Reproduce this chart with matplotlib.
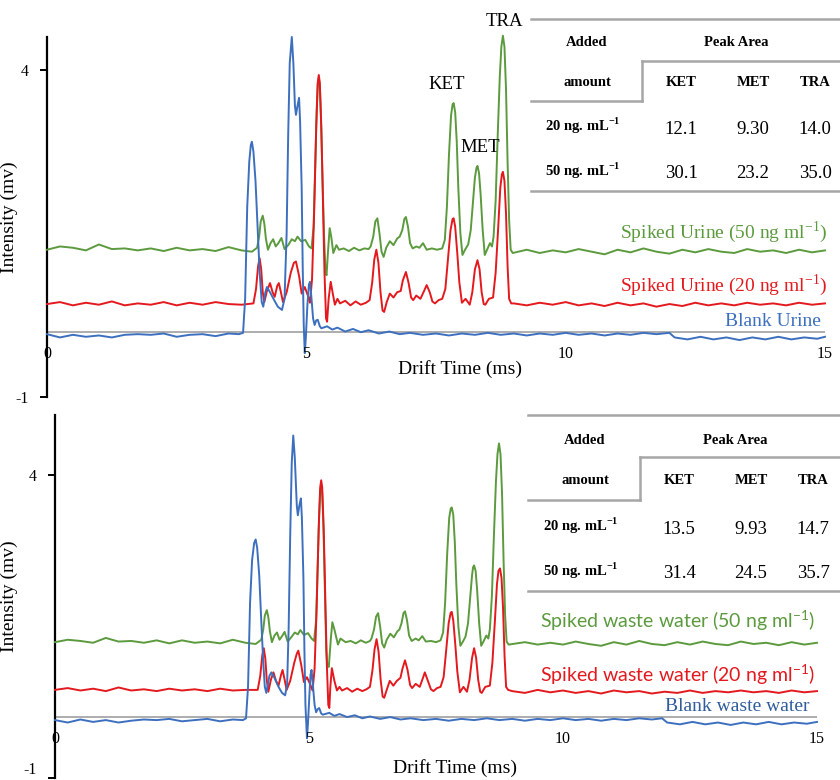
import numpy as np
import matplotlib.pyplot as plt
from matplotlib.lines import Line2D

plt.rcParams['font.family'] = ['Liberation Serif', 'DejaVu Serif']
plt.rcParams['axes.unicode_minus'] = False

BLUE = '#3d6fbf'
RED = '#e3191e'
GREEN = '#5c9a3e'

# ---- Urine panel traces (drift time ms, intensity mV) ----
u_blank_t = [0, 0.25, 0.5, 0.75, 1.0, 1.25, 1.5, 1.75, 2.0, 2.25, 2.5, 2.75, 3.0, 3.25, 3.5, 3.7,
             3.78, 3.82, 3.86, 3.90, 3.93, 3.95, 3.98, 4.02, 4.06, 4.10, 4.14, 4.17, 4.21, 4.24,
             4.30, 4.38, 4.45, 4.53, 4.58, 4.62, 4.65, 4.68, 4.72, 4.75, 4.78, 4.80, 4.83, 4.86,
             4.88, 4.91, 4.93, 4.95, 4.97, 4.99, 5.02, 5.05, 5.07, 5.10, 5.13, 5.16, 5.19, 5.22,
             5.26, 5.29, 5.4, 5.5, 5.6, 5.75, 5.9, 6.05, 6.2, 6.4, 6.6, 6.8, 7.0, 7.25, 7.5, 7.75,
             8.0, 8.25, 8.5, 8.75, 9.0, 9.25, 9.5, 9.75, 10.0, 10.25, 10.5, 10.75, 11.0, 11.25,
             11.5, 11.75, 12.0, 12.1, 12.35, 12.6, 12.85, 13.1, 13.35, 13.6, 13.85, 14.1, 14.35,
             14.6, 14.85, 15.0]
u_blank_y = [-0.04, -0.09, -0.05, -0.08, -0.06, -0.09, -0.05, -0.04, -0.05, -0.03, -0.08, -0.05,
             -0.04, -0.07, -0.03, -0.04,
             -0.02, 0.5, 1.9, 2.6, 2.85, 2.9, 2.75, 2.3, 1.6, 0.9, 0.45, 0.38, 0.6, 0.68,
             0.6, 0.48, 0.38, 0.33, 0.5, 1.5, 3.0, 4.1, 4.5, 4.1, 3.45, 3.31, 3.45, 3.57,
             3.2, 2.2, 1.0, 0.1, -0.33, -0.1, 0.4, 0.72, 0.76, 0.5, 0.2, 0.1, 0.17, 0.18,
             0.08, 0.05, 0.08, 0.03, 0.06, 0.0, 0.04, -0.01, 0.02, -0.03, 0.0, -0.04, -0.02, -0.05,
             -0.03, -0.06, -0.03, -0.05, -0.02, -0.05, -0.03, -0.06, -0.03, -0.05, -0.02, -0.05,
             -0.03, -0.06, -0.03, -0.05, -0.02, -0.04, -0.02, -0.09, -0.12, -0.08, -0.12, -0.09,
             -0.13, -0.09, -0.12, -0.08, -0.12, -0.09, -0.11, -0.08]

u_20_t = [0, 0.25, 0.5, 0.75, 1.0, 1.25, 1.5, 1.75, 2.0, 2.25, 2.5, 2.75, 3.0, 3.25, 3.5, 3.75,
          3.98, 4.03, 4.07, 4.10, 4.13, 4.16, 4.19, 4.24, 4.30, 4.35, 4.39, 4.44, 4.47, 4.51,
          4.55, 4.62, 4.70, 4.76, 4.80, 4.86, 4.91, 4.97, 5.03, 5.07, 5.11, 5.15, 5.19, 5.22,
          5.24, 5.26, 5.29, 5.32, 5.35, 5.38, 5.40, 5.43, 5.47, 5.51, 5.55, 5.6, 5.65, 5.75,
          5.85, 5.95, 6.05, 6.15, 6.22, 6.27, 6.31, 6.35, 6.39, 6.43, 6.47, 6.50, 6.55, 6.61,
          6.68, 6.75, 6.82, 6.86, 6.92, 6.97, 7.02, 7.06, 7.12, 7.2, 7.27, 7.32, 7.38, 7.43,
          7.48, 7.55, 7.62, 7.68, 7.73, 7.78, 7.82, 7.84, 7.87, 7.91, 7.95, 8.0, 8.07, 8.15,
          8.20, 8.25, 8.30, 8.34, 8.38, 8.42, 8.45, 8.52, 8.60, 8.65, 8.70, 8.74, 8.77, 8.79,
          8.82, 8.85, 8.88, 8.91, 8.95, 9.0, 9.25, 9.5, 9.75, 10.0, 10.25, 10.5, 10.75, 11.0,
          11.25, 11.5, 11.75, 12.0, 12.25, 12.5, 12.75, 13.0, 13.25, 13.5, 13.75, 14.0, 14.25,
          14.5, 14.75, 15.0]
u_20_y = [0.42, 0.45, 0.40, 0.44, 0.41, 0.46, 0.40, 0.43, 0.41, 0.45, 0.40, 0.44, 0.41, 0.45, 0.42,
          0.41, 0.43, 0.65, 1.0, 1.12, 0.95, 0.6, 0.45, 0.62, 0.74, 0.6, 0.53, 0.7, 0.74, 0.6,
          0.45, 0.6, 0.9, 1.05, 1.07, 0.85, 0.58, 0.68, 0.55, 0.44, 0.8, 1.8, 3.1, 3.8,
          3.92, 3.8, 3.1, 2.0, 0.9, 0.2, 0.15, 0.5, 0.76, 0.58, 0.41, 0.5, 0.43, 0.47,
          0.40, 0.46, 0.41, 0.44, 0.48, 0.75, 1.1, 1.25, 1.05, 0.6, 0.32, 0.30, 0.45, 0.58,
          0.52, 0.6, 0.62, 0.78, 0.91, 0.75, 0.52, 0.48, 0.55, 0.5, 0.62, 0.71, 0.6, 0.46,
          0.43, 0.48, 0.5, 0.65, 1.1, 1.55, 1.72, 1.73, 1.6, 1.2, 0.75, 0.44, 0.5, 0.41,
          0.6, 0.95, 1.09, 0.95, 0.6, 0.42, 0.41, 0.5, 0.52, 0.9, 1.6, 2.2, 2.4, 2.44,
          2.3, 1.8, 1.0, 0.5, 0.43, 0.43, 0.40, 0.44, 0.41, 0.45, 0.40, 0.43, 0.39, 0.44,
          0.40, 0.43, 0.38, 0.42, 0.39, 0.44, 0.40, 0.43, 0.40, 0.44, 0.41, 0.43, 0.40,
          0.44, 0.41, 0.43]

u_50_t = [0, 0.25, 0.5, 0.75, 1.0, 1.25, 1.5, 1.75, 2.0, 2.25, 2.5, 2.75, 3.0, 3.25, 3.5, 3.75,
          3.95, 4.05, 4.09, 4.12, 4.16, 4.19, 4.22, 4.26, 4.31, 4.36, 4.41, 4.46, 4.52, 4.58,
          4.65, 4.72, 4.78, 4.83, 4.9, 4.98, 5.05, 5.10, 5.14, 5.17, 5.20, 5.22, 5.24, 5.26,
          5.28, 5.31, 5.34, 5.37, 5.39, 5.42, 5.45, 5.48, 5.52, 5.58, 5.63, 5.72, 5.82, 5.92,
          6.02, 6.12, 6.2, 6.24, 6.29, 6.33, 6.37, 6.41, 6.45, 6.49, 6.54, 6.61, 6.68, 6.75,
          6.80, 6.85, 6.89, 6.92, 6.96, 7.0, 7.05, 7.12, 7.18, 7.25, 7.32, 7.42, 7.52, 7.62,
          7.67, 7.71, 7.75, 7.79, 7.82, 7.84, 7.87, 7.90, 7.93, 7.97, 8.01, 8.06, 8.12, 8.17,
          8.21, 8.25, 8.28, 8.30, 8.33, 8.36, 8.40, 8.44, 8.49, 8.54, 8.58, 8.61, 8.65, 8.69,
          8.73, 8.76, 8.79, 8.82, 8.85, 8.88, 8.91, 8.94, 8.98, 9.25, 9.5, 9.75, 10.0, 10.25,
          10.5, 10.75, 11.0, 11.25, 11.5, 11.75, 12.0, 12.25, 12.5, 12.75, 13.0, 13.25, 13.5,
          13.75, 14.0, 14.25, 14.5, 14.75, 15.0]
u_50_y = [1.25, 1.30, 1.28, 1.24, 1.33, 1.26, 1.27, 1.24, 1.27, 1.23, 1.28, 1.24, 1.26, 1.23, 1.29,
          1.24, 1.22, 1.28, 1.45, 1.68, 1.77, 1.65, 1.42, 1.25, 1.35, 1.41, 1.3, 1.35, 1.43, 1.26,
          1.32, 1.41, 1.38, 1.45, 1.38, 1.4, 1.3, 1.27, 1.6, 2.5, 3.4, 3.78, 3.87, 3.75,
          3.3, 2.4, 1.5, 0.9, 0.86, 1.25, 1.58, 1.45, 1.2, 1.32, 1.25, 1.27, 1.23, 1.28,
          1.24, 1.27, 1.26, 1.3, 1.45, 1.68, 1.73, 1.5, 1.22, 1.14, 1.28, 1.38, 1.32, 1.42,
          1.45, 1.55, 1.72, 1.75, 1.6, 1.35, 1.27, 1.3, 1.28, 1.35, 1.25, 1.27, 1.25, 1.27,
          1.4, 1.9, 2.7, 3.3, 3.47, 3.49, 3.35, 2.9, 2.2, 1.5, 1.17, 1.25, 1.33, 1.55,
          1.95, 2.35, 2.5, 2.53, 2.42, 2.1, 1.55, 1.17, 1.26, 1.35, 1.3, 1.45, 2.0, 3.0,
          3.9, 4.35, 4.52, 4.35, 3.7, 2.6, 1.7, 1.25, 1.2, 1.25, 1.20, 1.24, 1.21, 1.26,
          1.22, 1.18, 1.25, 1.21, 1.27, 1.22, 1.19, 1.25, 1.21, 1.26, 1.22, 1.20, 1.26,
          1.22, 1.24, 1.20, 1.25, 1.21, 1.24]

# ---- Waste water panel traces ----
w_blank_t = [0, 0.25, 0.5, 0.75, 1.0, 1.25, 1.5, 1.75, 2.0, 2.25, 2.5, 2.75, 3.0, 3.25, 3.5, 3.7,
             3.76, 3.80, 3.84, 3.88, 3.92, 3.95, 3.98, 4.02, 4.06, 4.10, 4.13, 4.16, 4.22, 4.26,
             4.32, 4.40, 4.47, 4.53, 4.57, 4.60, 4.63, 4.66, 4.69, 4.72, 4.76, 4.78, 4.81, 4.84,
             4.86, 4.89, 4.91, 4.93, 4.96, 4.98, 5.01, 5.03, 5.05, 5.08, 5.11, 5.14, 5.17, 5.20,
             5.24, 5.27, 5.4, 5.5, 5.6, 5.75, 5.9, 6.05, 6.2, 6.4, 6.6, 6.8, 7.0, 7.25, 7.5, 7.75,
             8.0, 8.25, 8.5, 8.75, 9.0, 9.25, 9.5, 9.75, 10.0, 10.25, 10.5, 10.75, 11.0, 11.25,
             11.5, 11.75, 11.95, 12.05, 12.3, 12.55, 12.8, 13.05, 13.3, 13.55, 13.8, 14.05, 14.3,
             14.55, 14.8, 15.0]
w_blank_y = [-0.05, -0.09, -0.04, -0.08, -0.05, -0.09, -0.06, -0.04, -0.05, -0.03, -0.07, -0.05,
             -0.03, -0.07, -0.04, -0.05,
             -0.02, 0.5, 1.9, 2.6, 2.88, 2.94, 2.8, 2.35, 1.6, 0.9, 0.5, 0.40, 0.68, 0.74,
             0.65, 0.5, 0.4, 0.36, 0.55, 1.5, 3.0, 4.2, 4.66, 4.3, 3.5, 3.34, 3.5, 3.62,
             3.3, 2.3, 1.1, 0.2, -0.35, -0.1, 0.4, 0.7, 0.78, 0.5, 0.2, 0.08, 0.13, 0.15,
             0.06, 0.04, 0.07, 0.02, 0.05, 0.0, 0.03, -0.02, 0.01, -0.03, 0.0, -0.04, -0.02, -0.05,
             -0.03, -0.06, -0.03, -0.05, -0.02, -0.05, -0.03, -0.06, -0.03, -0.05, -0.02, -0.05,
             -0.03, -0.06, -0.03, -0.05, -0.02, -0.04, -0.02, -0.09, -0.12, -0.08, -0.12, -0.09,
             -0.13, -0.09, -0.12, -0.08, -0.12, -0.09, -0.11, -0.08]

w_20_t = [0, 0.25, 0.5, 0.75, 1.0, 1.25, 1.5, 1.75, 2.0, 2.25, 2.5, 2.75, 3.0, 3.25, 3.5, 3.75,
          3.99, 4.04, 4.08, 4.11, 4.14, 4.17, 4.20, 4.25, 4.30, 4.35, 4.40, 4.45, 4.48, 4.52,
          4.56, 4.63, 4.71, 4.76, 4.79, 4.85, 4.90, 4.96, 5.02, 5.07, 5.11, 5.15, 5.19, 5.22,
          5.24, 5.26, 5.29, 5.32, 5.35, 5.38, 5.40, 5.42, 5.45, 5.50, 5.55, 5.6, 5.65, 5.75,
          5.85, 5.95, 6.05, 6.13, 6.20, 6.25, 6.29, 6.33, 6.37, 6.41, 6.45, 6.48, 6.53, 6.59,
          6.66, 6.73, 6.80, 6.84, 6.89, 6.94, 6.99, 7.03, 7.10, 7.18, 7.24, 7.28, 7.34, 7.40,
          7.45, 7.52, 7.59, 7.65, 7.70, 7.75, 7.79, 7.81, 7.84, 7.88, 7.92, 7.97, 8.04, 8.11,
          8.16, 8.21, 8.25, 8.29, 8.33, 8.37, 8.40, 8.47, 8.56, 8.61, 8.66, 8.70, 8.73, 8.76,
          8.79, 8.82, 8.85, 8.88, 8.92, 9.0, 9.25, 9.5, 9.75, 10.0, 10.25, 10.5, 10.75, 11.0,
          11.25, 11.5, 11.75, 12.0, 12.25, 12.5, 12.75, 13.0, 13.25, 13.5, 13.75, 14.0, 14.25,
          14.5, 14.75, 15.0]
w_20_y = [0.45, 0.48, 0.44, 0.47, 0.43, 0.49, 0.44, 0.46, 0.43, 0.47, 0.44, 0.46, 0.43, 0.47, 0.44,
          0.45, 0.45, 0.68, 1.02, 1.14, 0.97, 0.6, 0.42, 0.62, 0.74, 0.6, 0.52, 0.7, 0.78, 0.62,
          0.45, 0.6, 0.9, 1.05, 1.10, 0.85, 0.58, 0.66, 0.55, 0.44, 0.8, 1.8, 3.1, 3.8,
          3.92, 3.8, 3.1, 2.0, 0.9, 0.2, 0.15, 0.5, 0.81, 0.6, 0.44, 0.5, 0.44, 0.48,
          0.42, 0.47, 0.43, 0.46, 0.5, 0.78, 1.12, 1.29, 1.08, 0.62, 0.34, 0.32, 0.45, 0.6,
          0.52, 0.6, 0.65, 0.8, 0.94, 0.78, 0.53, 0.48, 0.55, 0.5, 0.64, 0.74, 0.6, 0.46,
          0.43, 0.48, 0.5, 0.66, 1.1, 1.56, 1.73, 1.74, 1.6, 1.2, 0.75, 0.41, 0.5, 0.42,
          0.62, 0.98, 1.14, 0.98, 0.62, 0.42, 0.40, 0.5, 0.52, 0.9, 1.6, 2.2, 2.42, 2.46,
          2.3, 1.8, 1.0, 0.5, 0.45, 0.43, 0.40, 0.45, 0.41, 0.44, 0.40, 0.43, 0.39, 0.44,
          0.41, 0.43, 0.39, 0.42, 0.40, 0.44, 0.40, 0.43, 0.41, 0.44, 0.41, 0.43, 0.40,
          0.44, 0.41, 0.43]

w_50_t = [0, 0.25, 0.5, 0.75, 1.0, 1.25, 1.5, 1.75, 2.0, 2.25, 2.5, 2.75, 3.0, 3.25, 3.5, 3.75,
          3.95, 4.06, 4.10, 4.13, 4.17, 4.20, 4.23, 4.27, 4.32, 4.37, 4.42, 4.47, 4.52, 4.58,
          4.65, 4.72, 4.78, 4.83, 4.9, 4.98, 5.05, 5.10, 5.14, 5.17, 5.20, 5.22, 5.24, 5.26,
          5.28, 5.30, 5.32, 5.34, 5.36, 5.39, 5.43, 5.46, 5.50, 5.57, 5.62, 5.72, 5.82, 5.92,
          6.02, 6.12, 6.2, 6.23, 6.28, 6.32, 6.36, 6.40, 6.44, 6.48, 6.53, 6.60, 6.67, 6.74,
          6.78, 6.82, 6.86, 6.89, 6.93, 6.97, 7.02, 7.10, 7.16, 7.23, 7.30, 7.40, 7.5, 7.59,
          7.64, 7.68, 7.72, 7.76, 7.79, 7.81, 7.84, 7.87, 7.90, 7.94, 7.98, 8.03, 8.08, 8.13,
          8.17, 8.21, 8.23, 8.25, 8.28, 8.31, 8.35, 8.39, 8.44, 8.49, 8.53, 8.56, 8.60, 8.64,
          8.68, 8.71, 8.74, 8.77, 8.80, 8.83, 8.86, 8.89, 8.93, 9.25, 9.5, 9.75, 10.0, 10.25,
          10.5, 10.75, 11.0, 11.25, 11.5, 11.75, 12.0, 12.25, 12.5, 12.75, 13.0, 13.25, 13.5,
          13.75, 14.0, 14.25, 14.5, 14.75, 15.0]
w_50_y = [1.24, 1.28, 1.26, 1.23, 1.31, 1.25, 1.26, 1.23, 1.27, 1.22, 1.27, 1.23, 1.25, 1.22, 1.28,
          1.23, 1.21, 1.28, 1.45, 1.68, 1.77, 1.65, 1.42, 1.24, 1.35, 1.40, 1.28, 1.34, 1.41, 1.25,
          1.32, 1.40, 1.37, 1.44, 1.36, 1.39, 1.3, 1.26, 1.6, 2.5, 3.35, 3.72, 3.83, 3.7,
          3.25, 2.6, 1.8, 1.1, 0.85, 0.83, 1.3, 1.57, 1.45, 1.2, 1.3, 1.24, 1.26, 1.22,
          1.27, 1.23, 1.26, 1.3, 1.45, 1.66, 1.72, 1.5, 1.22, 1.15, 1.28, 1.38, 1.32, 1.42,
          1.45, 1.55, 1.72, 1.75, 1.6, 1.35, 1.26, 1.3, 1.27, 1.34, 1.25, 1.26, 1.24, 1.27,
          1.4, 1.9, 2.7, 3.3, 3.45, 3.47, 3.35, 2.9, 2.2, 1.5, 1.18, 1.25, 1.33, 1.55,
          1.95, 2.35, 2.48, 2.51, 2.42, 2.1, 1.55, 1.18, 1.26, 1.35, 1.3, 1.45, 2.0, 3.0,
          3.9, 4.35, 4.53, 4.35, 3.7, 2.6, 1.7, 1.25, 1.2, 1.24, 1.20, 1.23, 1.20, 1.25,
          1.21, 1.18, 1.24, 1.20, 1.26, 1.21, 1.19, 1.24, 1.20, 1.25, 1.21, 1.19, 1.25,
          1.21, 1.23, 1.19, 1.24, 1.20, 1.23]

# ---- tables ----
compounds = ['KET', 'MET', 'TRA']
added = ['20 ng. mL$^{\\mathregular{-1}}$', '50 ng. mL$^{\\mathregular{-1}}$']
urine_area = [['12.1', '9.30', '14.0'], ['30.1', '23.2', '35.0']]
waste_area = [['13.5', '9.93', '14.7'], ['31.4', '24.5', '35.7']]

urine_labels = ['Spiked Urine (50 ng ml$^{\\mathregular{-1}}$)',
                'Spiked Urine (20 ng ml$^{\\mathregular{-1}}$)', 'Blank Urine']
waste_labels = ['Spiked waste water (50 ng ml$^{\\mathregular{-1}}$)',
                'Spiked waste water (20 ng ml$^{\\mathregular{-1}}$)', 'Blank waste water']

W, H = 840, 780
fig = plt.figure(figsize=(W / 100, H / 100), dpi=100)


def fx(x):
    return x / W


def fy(y):
    return 1 - y / H


def panel(rect, traces, ylim):
    ax = fig.add_axes(rect)
    ax.set_xlim(0, 15)
    ax.set_ylim(*ylim)
    for t, y, c in traces:
        ax.plot(t, y, color=c, lw=1.4, clip_on=False, zorder=3, solid_joinstyle='round')
    ax.axhline(0, color='#a0a0a0', lw=1.2, zorder=2)
    for s in ['top', 'right', 'bottom']:
        ax.spines[s].set_visible(False)
    ax.spines['left'].set_linewidth(1.6)
    ax.set_yticks([-1, 4])
    ax.set_xticks([])
    ax.tick_params(axis='y', direction='out', length=5, width=1.4, labelsize=11.5, pad=8)
    return ax


def xticks_at_zero(ax, dy_px):
    for v in [0, 5, 10, 15]:
        ax.annotate(str(v), xy=(v, 0), xytext=(0, -dy_px * 0.72), textcoords='offset points',
                    ha='center', va='center', fontsize=11.5, annotation_clip=False)


def draw_table(top, left, vline, right, cx, ccols, rows, vals, dys):
    col = '#a6a6a6'
    kw = dict(color=col, lw=1.8, transform=fig.transFigure)
    fig.add_artist(Line2D([fx(left), fx(right)], [fy(top), fy(top)], **kw))
    fig.add_artist(Line2D([fx(vline), fx(right)], [fy(top + dys[0])] * 2, **kw))
    fig.add_artist(Line2D([fx(vline), fx(vline)], [fy(top + dys[0]), fy(top + dys[1])], **kw))
    fig.add_artist(Line2D([fx(left), fx(vline)], [fy(top + dys[1])] * 2, **kw))
    fig.add_artist(Line2D([fx(left), fx(right)], [fy(top + dys[2])] * 2, **kw))
    bold = dict(fontsize=10.5, fontweight='bold', ha='center', va='center')
    fig.text(fx(cx), fy(top + dys[3]), 'Added', **bold)
    fig.text(fx((vline + right) / 2 - 5), fy(top + dys[3]), 'Peak Area', **bold)
    fig.text(fx(cx), fy(top + dys[4]), 'amount', **bold)
    for c, name in zip(ccols, compounds):
        fig.text(fx(c), fy(top + dys[4]), name, **bold)
    for i, (r, vv) in enumerate(zip(rows, vals)):
        ry = top + dys[5 + i]
        fig.text(fx(cx - 4), fy(ry - 3), r, fontsize=10.5, fontweight='bold', ha='center', va='center')
        for c, v in zip(ccols, vv):
            fig.text(fx(c), fy(ry), v, fontsize=13.5, ha='center', va='center')


# ---- top panel: urine ----
ax1 = panel([fx(47), fy(397), fx(825 - 47), (397 - 37) / H],
            [(u_50_t, u_50_y, GREEN), (u_20_t, u_20_y, RED), (u_blank_t, u_blank_y, BLUE)],
            (-1, 4.5))
xticks_at_zero(ax1, 22)
ax1.set_ylabel('Intensity (mv)', fontsize=14)
ax1.yaxis.set_label_coords(-0.037, 0.5)
ax1.text(0.531, 0.078, 'Drift Time (ms)', transform=ax1.transAxes, fontsize=14,
         ha='center', va='center')
for name, x, y in zip(compounds, [7.71, 8.36, 8.82], [3.77, 2.81, 4.73]):
    ax1.text(x, y, name, fontsize=13.5, ha='center', va='center', clip_on=False)
ax1.text(15.05, 1.52, urine_labels[0], color=GREEN, fontsize=14, ha='right', va='center')
ax1.text(15.05, 0.71, urine_labels[1], color=RED, fontsize=14, ha='right', va='center')
ax1.text(14.93, 0.15, urine_labels[2], color=BLUE, fontsize=14, ha='right', va='center')

draw_table(19, 531, 642, 840, 587, [681, 753, 815], added, urine_area,
           [42, 82, 172, 23, 64, 110, 155])

# ---- bottom panel: waste water ----
ax2 = panel([fx(55), fy(777.5), fx(817 - 55), (777.5 - 415) / H],
            [(w_50_t, w_50_y, GREEN), (w_20_t, w_20_y, RED), (w_blank_t, w_blank_y, BLUE)],
            (-1, 5))
# keep the "-1" label inside the picture
ax2.get_yticklabels()[0].set_verticalalignment('bottom')
xticks_at_zero(ax2, 22)
ax2.set_ylabel('Intensity (mv)', fontsize=14)
ax2.yaxis.set_label_coords(-0.049, 0.5)
ax2.text(0.525, 0.026, 'Drift Time (ms)', transform=ax2.transAxes, fontsize=14,
         ha='center', va='center')
sans = ['Lato', 'DejaVu Sans']
ax2.text(14.96, 1.60, waste_labels[0], color=GREEN, fontsize=14, ha='right', va='center',
         family=sans)
ax2.text(14.96, 0.71, waste_labels[1], color=RED, fontsize=14, ha='right', va='center',
         family=sans)
ax2.text(14.86, 0.17, waste_labels[2], color='#2f5c9a', fontsize=14, ha='right', va='center')

draw_table(415, 528, 640, 840, 585, [679, 751, 813], added, waste_area,
           [42, 85, 176, 25, 66, 114, 159])

fig.savefig('out.png', dpi=100)
